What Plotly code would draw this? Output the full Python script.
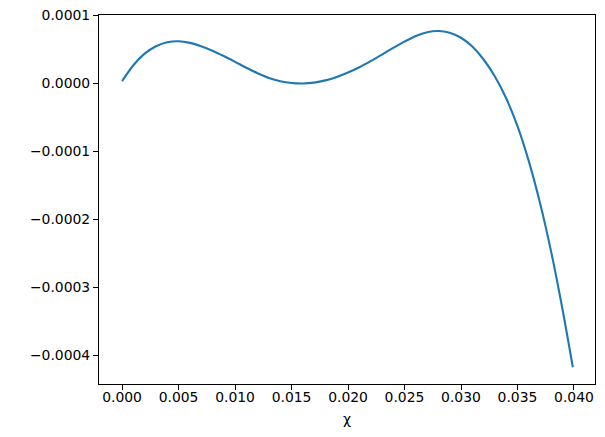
import plotly.graph_objects as go

# values
chi = [0.000, 0.001, 0.002, 0.003, 0.004, 0.005, 0.006, 0.007, 0.008, 0.009,
       0.010, 0.011, 0.012, 0.013, 0.014, 0.015, 0.016, 0.017, 0.018, 0.019,
       0.020, 0.021, 0.022, 0.023, 0.024, 0.025, 0.026, 0.027, 0.028, 0.029,
       0.030, 0.031, 0.032, 0.033, 0.034, 0.035, 0.036, 0.037, 0.038, 0.039,
       0.0399]
val_e4 = [0.03, 0.265, 0.435, 0.545, 0.603, 0.618, 0.594, 0.544, 0.478, 0.40,
          0.315, 0.228, 0.147, 0.078, 0.03, 0.003, -0.004, 0.009, 0.042, 0.092,
          0.157, 0.235, 0.325, 0.422, 0.52, 0.613, 0.696, 0.751, 0.769, 0.744,
          0.669, 0.539, 0.349, 0.099, -0.221, -0.631, -1.146, -1.766, -2.496, -3.341,
          -4.18]
values = [v * 1e-4 for v in val_e4]

x_ticks = [0.000, 0.005, 0.010, 0.015, 0.020, 0.025, 0.030, 0.035, 0.040]
x_labels = ["0.000", "0.005", "0.010", "0.015", "0.020", "0.025", "0.030", "0.035", "0.040"]
y_ticks = [0.0001, 0.0, -0.0001, -0.0002, -0.0003, -0.0004]
y_labels = ["0.0001", "0.0000", "\u22120.0001", "\u22120.0002", "\u22120.0003", "\u22120.0004"]

fig = go.Figure()
fig.add_trace(go.Scatter(
    x=chi, y=values, mode="lines",
    line=dict(color="#1f77b4", width=2.1, shape="spline", smoothing=0.8),
    showlegend=False, hoverinfo="skip",
))

axis_common = dict(
    showline=True, linecolor="black", linewidth=1.1, mirror=True,
    ticks="outside", ticklen=5, tickwidth=1.1, tickcolor="black",
    showgrid=False, zeroline=False, automargin=False,
    tickfont=dict(family="DejaVu Sans", size=13.9, color="black"),
)

fig.update_layout(
    width=605, height=437,
    margin=dict(l=99, r=10, t=15, b=53),
    paper_bgcolor="white", plot_bgcolor="white",
    font=dict(family="DejaVu Sans", size=13.9, color="black"),
    xaxis=dict(range=[-0.00204, 0.04186], tickvals=x_ticks, ticktext=x_labels,
               ticklabelstandoff=-5,
               title=dict(text="\u03c7", standoff=10,
                          font=dict(family="DejaVu Sans", size=13.9, color="black")),
               **axis_common),
    yaxis=dict(range=[-4.426e-4, 1.004e-4], tickvals=y_ticks, ticktext=y_labels,
               **axis_common),
)

fig.write_html("out.html", config={"displayModeBar": False},
               post_script="document.body.style.margin='0';document.body.style.padding='0';")
